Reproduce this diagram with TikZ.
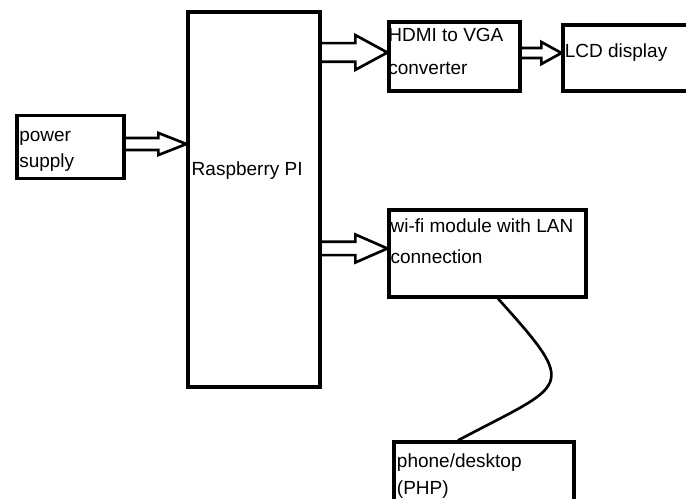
\documentclass[tikz,border=0pt]{standalone}
\usepackage{fontspec}
\setmainfont{Liberation Sans}
\usetikzlibrary{calc}

\begin{document}
\begin{tikzpicture}[x=0.75pt, y=-0.75pt,
        blk/.style={draw, line width=2.4pt, inner sep=0pt},
        txt/.style={font=\fontsize{14.25}{21}\selectfont, align=left,
            inner sep=0pt, anchor=north west},
        fatarrow/.style n args={3}{line width=2pt, to path={
            let \p1=(\tikztostart), \p2=(\tikztotarget) in
            (\x1,\y2+#1) -- (\x2-#3,\y2+#1) -- (\x2-#3,\y2+#2) -- (\x2,\y2)
            -- (\x2-#3,\y2-#2) -- (\x2-#3,\y2-#1) -- (\x1,\y2-#1)}},
        link/.style={line width=2pt}
    ]
    \clip (0,0) rectangle (686,499);

    \node[blk, minimum width=80.25pt, minimum height=47.6pt,
        label={[txt, xshift=2.7pt, yshift=-10.9pt]north west:{\vphantom{H}power\\[-1.5pt]supply}}]
        (power) at (70.5,147) {};
    \node[blk, minimum width=99pt, minimum height=281.25pt,
        label={[txt, xshift=3.8pt, yshift=-113.25pt]north west:{\vphantom{H}Raspberry PI}}]
        (rpi) at (254,199.5) {};
    \node[blk, minimum width=98.25pt, minimum height=51.75pt,
        label={[txt, xshift=0.5pt, yshift=-6pt]north west:{\vphantom{H}HDMI to VGA\\[3.75pt]converter}}]
        (hdmi) at (454.5,56.5) {};
    \node[blk, minimum width=102.75pt, minimum height=49.5pt,
        label={[txt, xshift=2.4pt, yshift=-15pt]north west:{\vphantom{H}LCD display}}]
        (lcd) at (631.5,58) {};
    \node[blk, minimum width=147.75pt, minimum height=65.25pt,
        label={[txt, xshift=2.2pt, yshift=-7.5pt]north west:{\vphantom{H}wi-fi module with LAN\\[2.25pt]connection}}]
        (wifi) at (487.5,253.5) {};
    \node[blk, minimum width=135pt, minimum height=58.5pt,
        label={[txt, xshift=3.2pt, yshift=-9.75pt]north west:{\vphantom{H}phone/desktop\\[-0.75pt](PHP)}}]
        (phone) at (484,481) {};

    % hollow arrows
    \draw[fatarrow={4.5pt}{8.25pt}{21pt}] (power.east) to ([yshift=2.25pt]power.east -| rpi.west);
    \draw[fatarrow={7pt}{13pt}{24pt}] (rpi.east) to ([yshift=3pt]hdmi.west);
    \draw[fatarrow={3.75pt}{8.25pt}{15pt}] (hdmi.east) to ([yshift=3.75pt]lcd.west);
    \draw[fatarrow={5pt}{10.5pt}{24pt}] (rpi.east) to ([yshift=3.75pt]wifi.west);

    \draw[link] ([xshift=7.9pt]wifi.south) to[out=-48, in=28, looseness=2.15] ([xshift=-19.5pt]phone.north);
\end{tikzpicture}
\end{document}
